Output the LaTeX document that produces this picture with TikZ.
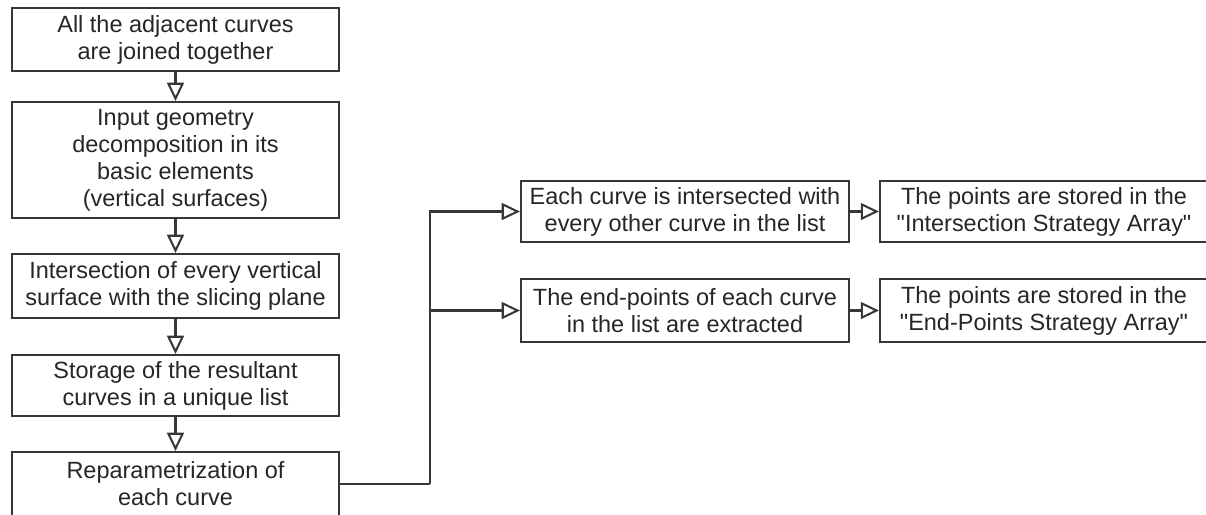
\documentclass[tikz,border=0pt]{standalone}
\usepackage{fontspec}
\setmainfont{Liberation Sans}[Ligatures=TeXOff]
\usetikzlibrary{arrows.meta}

\newcommand{\unitpx}{0.4386pt}
\definecolor{boxgray}{RGB}{55,55,55}

\begin{document}
\begin{tikzpicture}[x=\unitpx, y={(0pt,-\unitpx)},
		stepbox/.style={draw=boxgray, line width=0.9pt, align=center, inner sep=0pt,
				minimum width=327*\unitpx, text=black!85, font=\fontsize{10.3}{11.8}\selectfont},
		flow/.style={draw=boxgray, line width=0.9pt, -{Triangle[open, length=8pt, width=7.4pt]}},
		link/.style={draw=boxgray, line width=0.9pt}]
	\useasboundingbox (0,0) rectangle (1206,514);

	% Left column
	\foreach \name/\cy/\hh/\txt in {
			a/39.5/63/{All the adjacent curves\\are joined together},
			b/160/116/{Input geometry\\decomposition in its\\basic elements\\(vertical surfaces)},
			c/286/64/{Intersection of every vertical\\surface with the slicing plane},
			d/385.5/61/{Storage of the resultant\\curves in a unique list},
			e/484/64/{Reparametrization of\\each curve}}{
			\node [stepbox, minimum height=\hh*\unitpx] (\name) at (175.5,\cy) {\txt};
		}
	\foreach \from/\to in {a/b,b/c,c/d,d/e}{
			\draw [flow] (\from) -- (\to);
		}

	% Two strategies
	\node [stepbox, minimum width=328*\unitpx, minimum height=61*\unitpx] (m1) at (685,211.5)
	{Each curve is intersected with\\every other curve in the list};
	\node [stepbox, minimum width=328*\unitpx, minimum height=63*\unitpx] (m2) at (685,310.5)
	{The end-points of each curve\\in the list are extracted};
	\node [stepbox, minimum width=328*\unitpx, minimum height=61*\unitpx] (r1) at (1044,211.5)
	{The points are stored in the\\"Intersection Strategy Array"};
	\node [stepbox, minimum width=328*\unitpx, minimum height=63*\unitpx] (r2) at (1044,310.5)
	{The points are stored in the\\"End-Points Strategy Array"};

	\coordinate (fork) at (430,484);
	\draw [link] (e.east) -- (fork);
	\draw [flow] (fork) |- (m1);
	\draw [flow] (fork) |- (m2);
	\draw [flow] (m1) -- (r1);
	\draw [flow] (m2) -- (r2);
\end{tikzpicture}
\end{document}
